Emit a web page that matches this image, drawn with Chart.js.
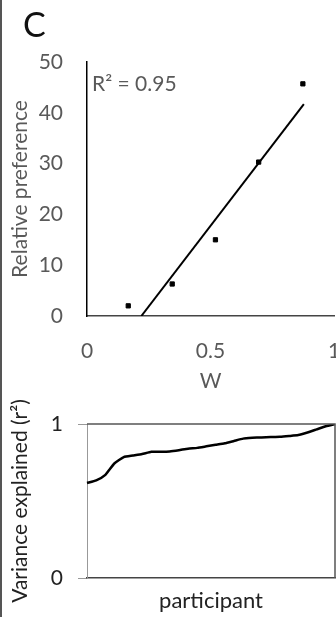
<!DOCTYPE html>
<html>
<head>
<meta charset="utf-8">
<script src="https://cdn.jsdelivr.net/npm/chart.js@4"></script>
<style>
  html, body { margin: 0; padding: 0; background: #fff; overflow: hidden; width: 336px; height: 622px; }
  #wrap { position: relative; width: 336px; height: 622px; font-family: Lato, sans-serif; overflow: hidden; }
  #edge { position: absolute; left: 0; top: 0; width: 2px; height: 617px; background: #555; }
  #panel { position: absolute; left: 23px; top: 3px; font-size: 34px; color: #111; }
  #r2 { position: absolute; left: 92px; top: 72px; font-size: 21px; color: #595959; line-height: 1; }
  #c1 { position: absolute; left: 0; top: 0; }
  #c2 { position: absolute; left: 0; top: 395px; }
</style>
</head>
<body>
<div id="wrap">
  <canvas id="c1" width="345" height="395"></canvas>
  <canvas id="c2" width="336" height="227"></canvas>
  <div id="edge"></div>
  <div id="panel">C</div>
  <div id="r2">R² = 0.95</div>
</div>
<script>
// panel C top: relative preference against W
var wValues = [0.167, 0.345, 0.52, 0.695, 0.874];
var prefValues = [2, 6.3, 15, 30.3, 45.7];
// fitted line, ends
var fitW = [0.22, 0.878];
var fitPref = [0, 41.7];

// panel C bottom: variance explained, sorted by participant
var varExplained = [0.617, 0.634, 0.67, 0.745, 0.785, 0.795, 0.805, 0.82, 0.82, 0.822,
  0.83, 0.84, 0.845, 0.855, 0.865, 0.875, 0.89, 0.905, 0.91, 0.913,
  0.915, 0.917, 0.922, 0.928, 0.945, 0.965, 0.985, 1.0];
var participants = varExplained.map(function (v, i) { return i + 1; });

var gray = '#595959';
var font21 = { family: 'Lato', size: 21 };

var ctx = document.getElementById('c1').getContext('2d');
var chart = new Chart(ctx, {
  type: 'scatter',
  data: {
    datasets: [{
      data: wValues.map(function (w, i) { return { x: w, y: prefValues[i] }; }),
      pointStyle: 'rect',
      pointRadius: 3,
      backgroundColor: '#000',
      borderColor: '#000'
    }, {
      type: 'line',
      data: fitW.map(function (w, i) { return { x: w, y: fitPref[i] }; }),
      borderColor: '#000',
      borderWidth: 2,
      pointRadius: 0,
      fill: false
    }]
  },
  options: {
    responsive: false,
    animation: false,
    layout: { padding: { top: 62, right: 11, bottom: 0, left: 0 } },
    plugins: { legend: { display: false }, tooltip: { enabled: false } },
    scales: {
      x: {
        type: 'linear', min: 0, max: 1,
        grid: { display: false, drawTicks: false },
        border: { color: '#444', width: 1.5 },
        ticks: {
          stepSize: 0.5, color: gray, font: font21, padding: 23, maxRotation: 0,
          callback: function (v) { return String(v); }
        },
        title: { display: true, text: 'W', color: gray, font: font21, padding: { top: 0, bottom: 1.5 } },
        // tick padding would otherwise be added to the side overhang
        afterFit: function (s) { s.height = 79; s.paddingLeft = 6; s.paddingRight = 6; }
      },
      y: {
        min: 0, max: 50,
        grid: { display: false, drawTicks: false },
        border: { color: '#000', width: 1.5 },
        ticks: { stepSize: 10, color: gray, font: font21, padding: 24 },
        title: { display: true, text: 'Relative preference', color: gray, font: font21, padding: { top: 8, bottom: 0 } },
        afterFit: function (s) { s.width = 87; }
      }
    }
  }
});

// box round the plot area of the lower chart
var frame = {
  id: 'frame',
  afterDraw: function (c) {
    var a = c.chartArea, g = c.ctx;
    g.save();
    g.strokeStyle = '#555';
    g.lineWidth = 1.5;
    g.beginPath();
    g.moveTo(a.left, a.top);
    g.lineTo(a.right, a.top);
    g.lineTo(a.right, a.bottom);
    g.stroke();
    g.restore();
  }
};

var ctx2 = document.getElementById('c2').getContext('2d');
var chart2 = new Chart(ctx2, {
  type: 'line',
  data: {
    labels: participants,
    datasets: [{
      data: varExplained,
      borderColor: '#000',
      borderWidth: 2.5,
      pointRadius: 0,
      tension: 0.15,
      fill: false
    }]
  },
  plugins: [frame],
  options: {
    responsive: false,
    animation: false,
    layout: { padding: { top: 29, right: 1, bottom: 0, left: 0 } },
    plugins: { legend: { display: false }, tooltip: { enabled: false } },
    scales: {
      x: {
        offset: false,
        grid: { display: false, drawTicks: false },
        border: { color: '#444', width: 1.5 },
        ticks: { display: false },
        title: { display: true, text: 'participant', color: '#222', font: { family: 'Lato', size: 22 }, padding: { top: 0, bottom: 8 } },
        afterFit: function (s) { s.height = 44; }
      },
      y: {
        min: 0, max: 1,
        grid: { display: true, drawOnChartArea: false, drawTicks: true, tickLength: 9, color: '#999' },
        border: { color: '#999', width: 1 },
        ticks: { stepSize: 1, color: '#222', font: font21, padding: 15 },
        title: { display: true, text: 'Variance explained (r²)', color: '#222', font: font21, padding: { top: 8, bottom: 0 } },
        afterFit: function (s) { s.width = 87; }
      }
    }
  }
});
</script>
</body>
</html>
